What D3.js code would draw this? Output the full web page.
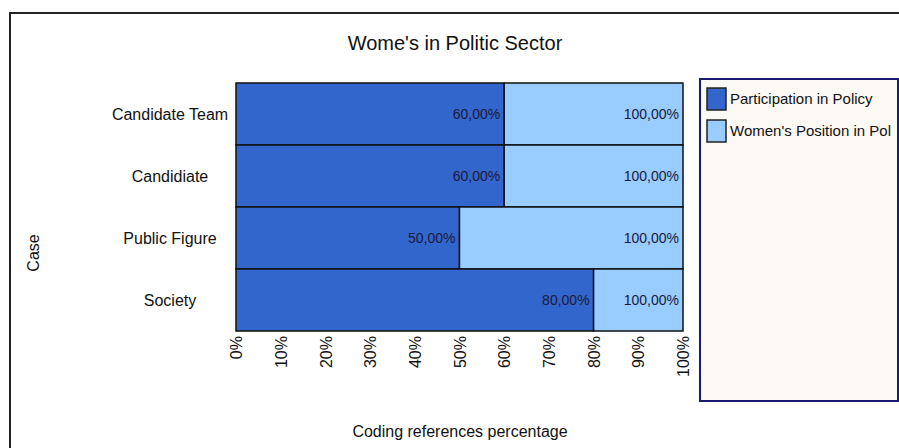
<!DOCTYPE html>
<html>
<head>
<meta charset="utf-8">
<script src="https://cdn.jsdelivr.net/npm/d3@7"></script>
<style>
  body { margin: 0; background: #fff; }
  svg { font-family: "Liberation Sans", Arial, sans-serif; }
</style>
</head>
<body>
<svg id="chart" width="899" height="448"></svg>
<script>
// Dados
const categorias = ["Candidate Team", "Candidiate", "Public Figure", "Society"];
const participacao = [60, 60, 50, 80];   // Participation in Policy
const posicao = [40, 40, 50, 20];        // Women's Position in Politic (resto até 100%)
const series = ["Participation in Policy", "Women's Position in Pol"];
const cores = ["#3366cc", "#99ccff"];
const ticks = [0, 10, 20, 30, 40, 50, 60, 70, 80, 90, 100];

const svg = d3.select("#chart");
const fmt = v => d3.format(".2f")(v).replace(".", ",") + "%";

// Moldura externa
svg.append("path")
    .attr("d", "M10,448 L10,13 L899,13")
    .attr("fill", "none")
    .attr("stroke", "#222")
    .attr("stroke-width", 2);

// Título
svg.append("text")
    .attr("x", 455).attr("y", 50)
    .attr("text-anchor", "middle")
    .attr("font-size", 20)
    .attr("fill", "#111")
    .text("Wome's in Politic Sector");

const x = d3.scaleLinear().domain([0, 100]).range([236, 683]);
const y = d3.scaleBand().domain(categorias).range([83, 331]).padding(0);

// Barras empilhadas
const linhas = categorias.map((c, i) => ({cat: c, a: participacao[i], b: posicao[i]}));
const g = svg.append("g");
linhas.forEach(d => {
    const partes = [
        {x0: 0, x1: d.a, cor: cores[0]},
        {x0: d.a, x1: d.a + d.b, cor: cores[1]}
    ];
    partes.forEach(p => {
        g.append("rect")
            .attr("x", x(p.x0))
            .attr("y", y(d.cat))
            .attr("width", x(p.x1) - x(p.x0))
            .attr("height", y.bandwidth())
            .attr("fill", p.cor)
            .attr("stroke", "#111")
            .attr("stroke-width", 1.5);
        g.append("text")
            .attr("x", x(p.x1) - 4)
            .attr("y", y(d.cat) + y.bandwidth() / 2 + 5)
            .attr("text-anchor", "end")
            .attr("font-size", 14)
            .attr("fill", "#1a1a3a")
            .text(fmt(p.x1));
    });
});

// Rótulos das categorias
categorias.forEach(c => {
    svg.append("text")
        .attr("x", 170)
        .attr("y", y(c) + y.bandwidth() / 2 + 6)
        .attr("text-anchor", "middle")
        .attr("font-size", 16)
        .attr("fill", "#111")
        .text(c);
});

// Eixo X com rótulos verticais
const eixo = svg.append("g")
    .attr("transform", "translate(0,331)")
    .call(d3.axisBottom(x).tickValues(ticks).tickSize(0).tickFormat(d => d + "%"));
eixo.select(".domain").remove();
eixo.selectAll("text")
    .attr("font-size", 16)
    .attr("fill", "#111")
    .attr("font-family", "Liberation Sans, Arial, sans-serif")
    .attr("transform", "rotate(-90)")
    .attr("text-anchor", "end")
    .attr("x", -5)
    .attr("y", 0)
    .attr("dy", "0.35em");

// Títulos dos eixos
svg.append("text")
    .attr("x", 460).attr("y", 437)
    .attr("text-anchor", "middle")
    .attr("font-size", 16)
    .attr("fill", "#111")
    .text("Coding references percentage");

svg.append("text")
    .attr("transform", "translate(39,253) rotate(-90)")
    .attr("text-anchor", "middle")
    .attr("font-size", 16)
    .attr("fill", "#111")
    .text("Case");

// Legenda
svg.append("rect")
    .attr("x", 700).attr("y", 79)
    .attr("width", 198).attr("height", 322)
    .attr("fill", "#fcf9f5")
    .attr("stroke", "#1a1a70")
    .attr("stroke-width", 2);

series.forEach((s, i) => {
    svg.append("rect")
        .attr("x", 707).attr("y", 88 + i * 32)
        .attr("width", 19).attr("height", 22)
        .attr("fill", cores[i])
        .attr("stroke", "#222")
        .attr("stroke-width", 1.5);
    svg.append("text")
        .attr("x", 730).attr("y", 104 + i * 32)
        .attr("font-size", 15)
        .attr("fill", "#111")
        .text(s);
});
</script>
</body>
</html>
